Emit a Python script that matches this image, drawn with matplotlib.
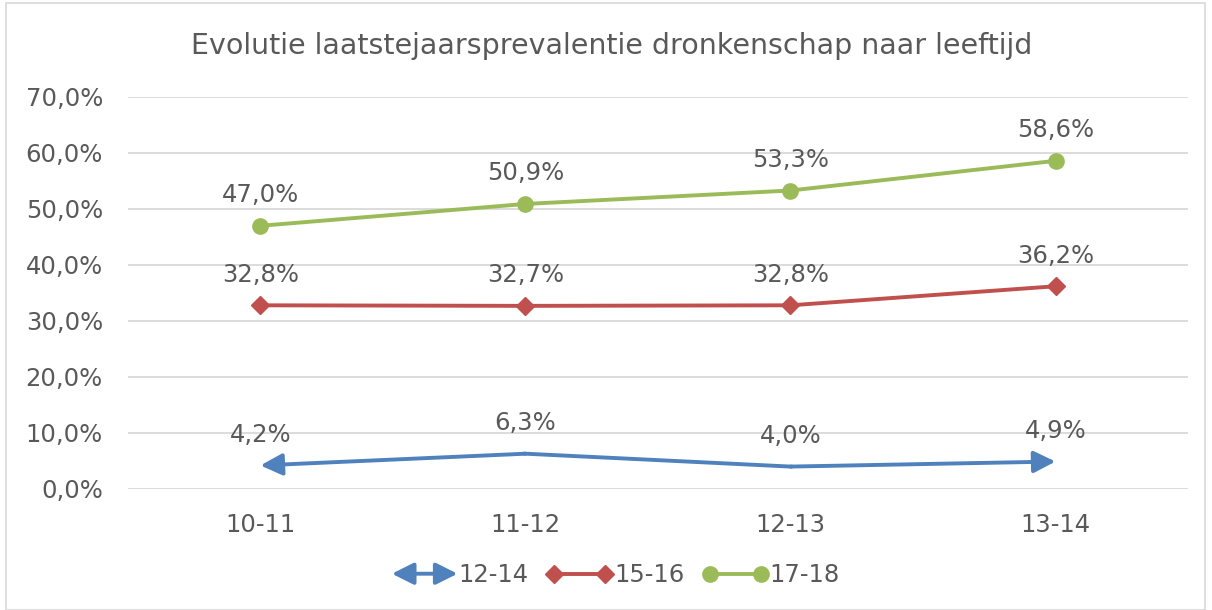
import numpy as np
import matplotlib.pyplot as plt
from matplotlib.patches import FancyArrowPatch, Rectangle
from matplotlib.legend_handler import HandlerBase
from matplotlib.lines import Line2D

plt.rcParams['font.family'] = ['DejaVu Sans']

years = ['10-11', '11-12', '12-13', '13-14']
age_12_14 = [4.2, 6.3, 4.0, 4.9]
age_15_16 = [32.8, 32.7, 32.8, 36.2]
age_17_18 = [47.0, 50.9, 53.3, 58.6]
series_names = ['12-14', '15-16', '17-18']

blue = '#4F81BD'
red = '#C0504D'
green = '#9BBB59'
text_col = '#595959'
grid_col = '#D9D9D9'

head = '-|>,head_length=1.2,head_width=0.6'


class ArrowHandler(HandlerBase):
    def create_artists(self, legend, orig_handle, xdescent, ydescent,
                       width, height, fontsize, trans):
        y = height / 2 - ydescent
        arr = FancyArrowPatch((-xdescent, y), (width - xdescent, y),
                              arrowstyle='<|-|>,head_length=1.2,head_width=0.6',
                              mutation_scale=11, color=blue, lw=2.8,
                              shrinkA=0, shrinkB=0, transform=trans)
        return [arr]


fig = plt.figure(figsize=(12.12, 6.10), dpi=100)
ax = fig.add_axes([0.1056, 0.1984, 0.8746, 0.6426])

x = np.arange(len(years))

# 12-14 with arrow ends
ax.plot(x[1:-1], age_12_14[1:-1], color=blue, lw=2.8)
for i, j in [(0, 1), (len(x) - 1, len(x) - 2)]:
    ax.annotate('', xy=(x[i], age_12_14[i]), xytext=(x[j], age_12_14[j]),
                arrowprops=dict(arrowstyle=head, mutation_scale=11,
                                color=blue, lw=2.8, shrinkA=0, shrinkB=0))
ax.plot(x, age_15_16, color=red, lw=2.8, marker='D', ms=9)
ax.plot(x, age_17_18, color=green, lw=2.8, marker='o', ms=11)

for vals in [age_12_14, age_15_16, age_17_18]:
    for xi, v in zip(x, vals):
        ax.annotate(f'{v:.1f}%'.replace('.', ','), (xi, v), xytext=(0, 22),
                    textcoords='offset points', ha='center', va='center',
                    fontsize=17.5, color=text_col)

ax.set_xlim(-0.5, len(years) - 0.5)
ax.set_ylim(0, 70)
ax.set_yticks(np.arange(0, 71, 10))
ax.set_yticklabels([f'{t:.1f}%'.replace('.', ',') for t in np.arange(0, 71, 10)])
ax.set_xticks(x)
ax.set_xticklabels(years)
ax.tick_params(length=0, labelsize=17.5, labelcolor=text_col)
ax.tick_params(axis='y', pad=18)
ax.tick_params(axis='x', pad=17)
ax.grid(axis='y', color=grid_col, lw=1.3)
ax.set_axisbelow(True)
for s in ax.spines.values():
    s.set_visible(False)

fig.text(0.505, 0.925, 'Evolutie laatstejaarsprevalentie dronkenschap naar leeftijd',
         ha='center', va='center', fontsize=20.5, color=text_col)

handles = [Line2D([], [], color=blue, lw=2.8),
           Line2D([], [], color=red, lw=2.8, marker='D', ms=9),
           Line2D([], [], color=green, lw=2.8, marker='o', ms=11)]
leg = fig.legend(handles, series_names, loc='center', bbox_to_anchor=(0.508, 0.057),
                 ncol=3, frameon=False, fontsize=17.5, labelcolor=text_col,
                 numpoints=2, markerfirst=True,
                 handlelength=2.7, handletextpad=0.05, columnspacing=0.75,
                 handler_map={handles[0]: ArrowHandler()})

fig.patches.append(Rectangle((0.005, 0.0), 0.989, 0.995, transform=fig.transFigure,
                             fill=False, edgecolor=grid_col, lw=1.2))

fig.savefig('out.png', dpi=100)
